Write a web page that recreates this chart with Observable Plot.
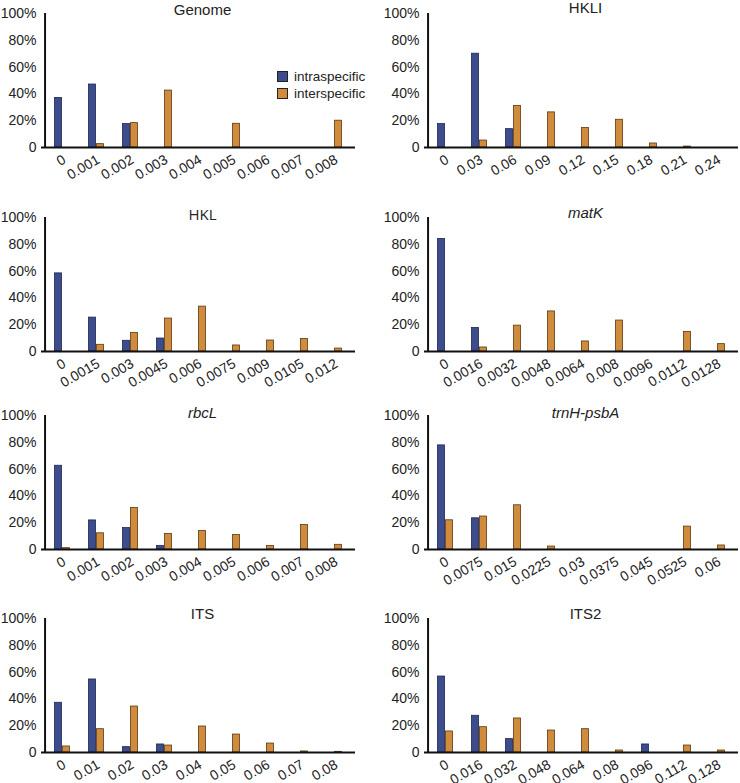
<!DOCTYPE html>
<html><head><meta charset="utf-8">
<script src="https://cdn.jsdelivr.net/npm/d3@7"></script>
<script src="https://cdn.jsdelivr.net/npm/@observablehq/plot@0.6"></script>
<style>
body{margin:0;background:#fff;font-family:"Liberation Sans",Arial,sans-serif;}
#wrap{position:relative;width:740px;height:783px;overflow:hidden;}
.panel{position:absolute;}
.legend{position:absolute;left:277px;top:68px;font-size:13.5px;color:#222;line-height:17px;}
.legend div{display:flex;align-items:center;}
.legend span.sw{display:inline-block;width:9px;height:9px;margin-right:6px;border:1px solid #222;}
</style></head>
<body><div id="wrap"></div>
<script>
const seriesNames = ["intraspecific", "interspecific"];
const seriesColors = ["#3c4c8c", "#d08b3c"];
const seriesStrokes = ["#1e2850", "#5a3a15"];

const genomeTicks = ["0","0.001","0.002","0.003","0.004","0.005","0.006","0.007","0.008"];
const genomeIntra = [37, 47, 17.5, 0, 0, 0, 0, 0, 0];
const genomeInter = [0, 2.5, 18.2, 42.5, 0, 17.7, 0, 0, 20];

const hkliTicks = ["0","0.03","0.06","0.09","0.12","0.15","0.18","0.21","0.24"];
const hkliIntra = [17.5, 70, 13.7, 0, 0, 0, 0, 0, 0];
const hkliInter = [0, 5.2, 31, 26.2, 14.5, 20.7, 3, 0.7, 0];

const hklTicks = ["0","0.0015","0.003","0.0045","0.006","0.0075","0.009","0.0105","0.012"];
const hklIntra = [58.3, 25.3, 8, 9.7, 0, 0, 0, 0, 0];
const hklInter = [0, 5, 13.9, 24.6, 33.5, 4.5, 8.2, 9.4, 2.2];

const matkTicks = ["0","0.0016","0.0032","0.0048","0.0064","0.008","0.0096","0.0112","0.0128"];
const matkIntra = [84, 17.6, 0, 0, 0, 0, 0, 0, 0];
const matkInter = [0, 3, 19.3, 29.9, 7.5, 23.1, 0, 14.6, 5.5];

const rbclTicks = ["0","0.001","0.002","0.003","0.004","0.005","0.006","0.007","0.008"];
const rbclIntra = [62.5, 21.7, 16, 2.7, 0, 0, 0, 0, 0];
const rbclInter = [1, 12.1, 30.9, 11.6, 13.8, 10.9, 2.7, 18.3, 3.5];

const trnhTicks = ["0","0.0075","0.015","0.0225","0.03","0.0375","0.045","0.0525","0.06"];
const trnhIntra = [77.7, 23.3, 0, 0, 0, 0, 0, 0, 0];
const trnhInter = [21.8, 24.6, 33, 2.2, 0, 0, 0, 17.1, 3];

const itsTicks = ["0","0.01","0.02","0.03","0.04","0.05","0.06","0.07","0.08"];
const itsIntra = [37.1, 54.5, 4, 6, 0, 0, 0, 0, 0];
const itsInter = [4.5, 17.4, 34.3, 5.2, 19.4, 13.4, 6.7, 0.8, 0.5];

const its2Ticks = ["0","0.016","0.032","0.048","0.064","0.08","0.096","0.112","0.128"];
const its2Intra = [56.7, 27.4, 10, 0, 0, 0, 6, 0, 0];
const its2Inter = [15.7, 18.9, 25.4, 16.4, 17.4, 1.5, 0, 5.2, 1.5];

const yTicks = [0, 20, 40, 60, 80, 100];

const panels = [
  {title: "Genome", italic: false, ticks: genomeTicks, intra: genomeIntra, inter: genomeInter, col: 0, row: 0, tdy: 1},
  {title: "HKLI", italic: false, ticks: hkliTicks, intra: hkliIntra, inter: hkliInter, col: 1, row: 0, tdy: -1},
  {title: "HKL", italic: false, ticks: hklTicks, intra: hklIntra, inter: hklInter, col: 0, row: 1, font: "'Open Sans'", tdy: 2},
  {title: "matK", italic: true, ticks: matkTicks, intra: matkIntra, inter: matkInter, col: 1, row: 1, tdy: 0},
  {title: "rbcL", italic: true, ticks: rbclTicks, intra: rbclIntra, inter: rbclInter, col: 0, row: 2, tdy: 2},
  {title: "trnH-psbA", italic: true, ticks: trnhTicks, intra: trnhIntra, inter: trnhInter, col: 1, row: 2, tdy: 2},
  {title: "ITS", italic: false, ticks: itsTicks, intra: itsIntra, inter: itsInter, col: 0, row: 3, tdy: 0},
  {title: "ITS2", italic: false, ticks: its2Ticks, intra: its2Intra, inter: its2Inter, col: 1, row: 3, tdy: 0}
];

const rowTops = [13, 217, 415, 618];
const W = 370, MT = 30, PH = 134, MB = 45, H = MT + PH + MB;
const wrap = document.getElementById("wrap");

for (const p of panels) {
  const ml = p.col === 0 ? 41 : 54;
  const mr = p.col === 0 ? 15 : 2;
  const bw = (W - ml - mr) / p.ticks.length;
  const rows = [];
  p.ticks.forEach((t, i) => {
    rows.push({cat: t, series: 0, value: p.intra[i]});
    rows.push({cat: t, series: 1, value: p.inter[i]});
  });
  const data = rows.filter(d => d.value > 0);
  const barW = 8;
  const chart = Plot.plot({
    width: W, height: H,
    marginLeft: ml, marginRight: mr, marginTop: MT, marginBottom: MB,
    style: {fontFamily: "'Liberation Sans', Arial, sans-serif", color: "#222", background: "transparent"},
    x: {type: "band", domain: p.ticks, padding: 0},
    y: {domain: [0, 100]},
    marks: [
      Plot.barY(data.filter(d => d.series === 0), {x: "cat", y: "value", fill: seriesColors[0], stroke: seriesStrokes[0], strokeWidth: 0.8,
        insetLeft: bw / 2 - barW, insetRight: bw / 2}),
      Plot.barY(data.filter(d => d.series === 1), {x: "cat", y: "value", fill: seriesColors[1], stroke: seriesStrokes[1], strokeWidth: 0.8,
        insetLeft: bw / 2, insetRight: bw / 2 - barW}),
      Plot.ruleY([0], {stroke: "#111", strokeWidth: 2}),
      Plot.ruleX([p.ticks[0]], {stroke: "#111", strokeWidth: 2, dx: -bw / 2}),
      Plot.axisY({ticks: yTicks, tickSize: 0, tickPadding: 5, fontSize: 14, label: null,
        tickFormat: d => d === 0 ? "0" : d + "%"}),
      Plot.axisX({tickSize: 0, tickRotate: -30, tickPadding: 11, dx: 2, fontSize: 14, label: null}),
      Plot.text([p.title], {text: d => d, frameAnchor: "top", dx: 4, dy: p.tdy, lineAnchor: "bottom", fontSize: 15,
        fontStyle: p.italic ? "italic" : "normal", fill: "#222", fontFamily: p.font || "'Liberation Sans', Arial, sans-serif"})
    ]
  });
  const div = document.createElement("div");
  div.className = "panel";
  div.style.left = (p.col * W) + "px";
  div.style.top = (rowTops[p.row] - MT) + "px";
  div.appendChild(chart);
  wrap.appendChild(div);
}

const legend = document.createElement("div");
legend.className = "legend";
seriesNames.forEach((n, i) => {
  const item = document.createElement("div");
  const sw = document.createElement("span");
  sw.className = "sw";
  sw.style.background = seriesColors[i];
  item.appendChild(sw);
  item.appendChild(document.createTextNode(n));
  legend.appendChild(item);
});
wrap.appendChild(legend);
</script></body></html>
